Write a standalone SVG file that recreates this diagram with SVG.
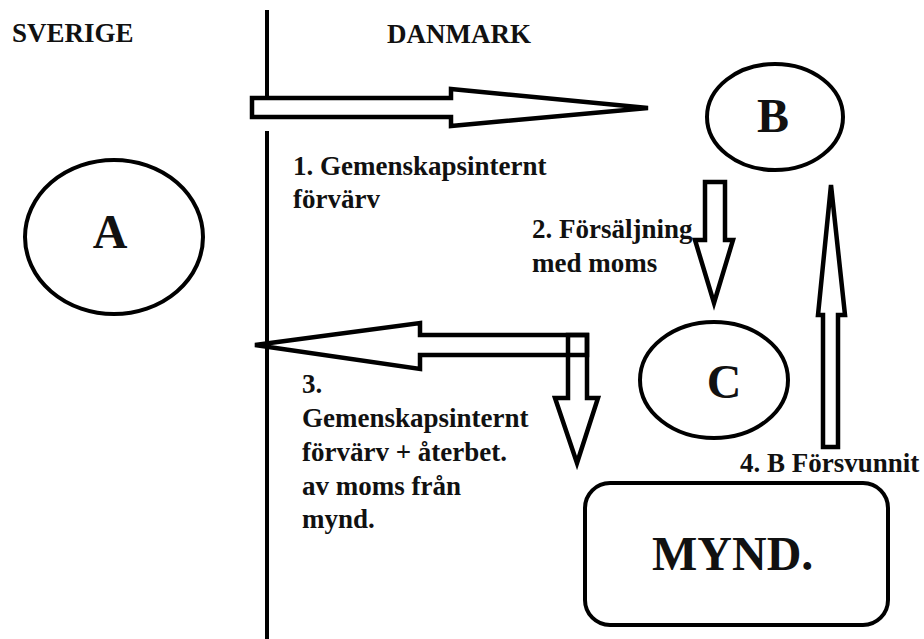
<svg xmlns="http://www.w3.org/2000/svg" width="924" height="639" viewBox="0 0 924 639">
<style>
.t{font-family:"Liberation Serif","Times New Roman",serif;font-weight:bold;fill:#111;}
.lbl{font-size:27px;}
.big{font-size:48px;}
.shape{fill:none;stroke:#000;stroke-width:4;}
.arr{fill:#fff;stroke:#000;stroke-width:4.5;stroke-linejoin:miter;}
.arrn{fill:none;stroke:#000;stroke-width:4.5;stroke-linejoin:miter;}
</style>
<rect width="924" height="639" fill="#fff"/>
<g id="border">
<line x1="267" y1="10" x2="267" y2="98" stroke="#000" stroke-width="4"/>
<line x1="267" y1="131" x2="267" y2="639" stroke="#000" stroke-width="4"/>
<text class="t lbl" x="12" y="42">SVERIGE</text>
<text class="t lbl" x="387" y="43">DANMARK</text>
</g>
<g id="connectors">
<polygon class="arr" points="252,98 451,98 451,89 648,108 451,126 451,117 252,117"/>
<polygon class="arr" points="705,182 725,182 725,240 733,240 714,303 695,240 705,240"/>
<polygon class="arr" points="823,447 838,447 838,315 845,315 831,185 818,315 823,315"/>
<polygon class="arrn" points="587,335 420,335 420,323 255,345 420,369 420,355 587,355 587,335"/>
<polygon class="arrn" points="568,335 587,335 587,398 598,398 577,463 555,398 568,398"/>
</g>
<g id="label1">
<text class="t lbl" x="293" y="175">1. Gemenskapsinternt</text>
<text class="t lbl" x="293" y="208">förvärv</text>
</g>
<g id="label2">
<text class="t lbl" x="532" y="238">2. Försäljning</text>
<text class="t lbl" x="532" y="272">med moms</text>
</g>
<g id="label3">
<text class="t lbl" x="302" y="393">3.</text>
<text class="t lbl" x="302" y="427">Gemenskapsinternt</text>
<text class="t lbl" x="302" y="461">förvärv + återbet.</text>
<text class="t lbl" x="302" y="495">av moms från</text>
<text class="t lbl" x="302" y="528">mynd.</text>
</g>
<g id="label4">
<text class="t lbl" x="740" y="472">4. B Försvunnit</text>
</g>
<g id="A">
<ellipse class="shape" cx="114" cy="237" rx="89" ry="77"/>
<text class="t big" x="110" y="248" text-anchor="middle">A</text>
</g>
<g id="B">
<ellipse class="shape" cx="775" cy="117" rx="68" ry="53"/>
<text class="t big" x="773" y="132" text-anchor="middle">B</text>
</g>
<g id="C">
<ellipse class="shape" cx="714" cy="380" rx="74" ry="58"/>
<text class="t big" x="724" y="398" text-anchor="middle">C</text>
</g>
<g id="MYND">
<rect class="shape" x="585" y="483" width="303" height="142" rx="25" ry="25"/>
<text class="t big" x="652" y="570">MYND.</text>
</g>
</svg>
